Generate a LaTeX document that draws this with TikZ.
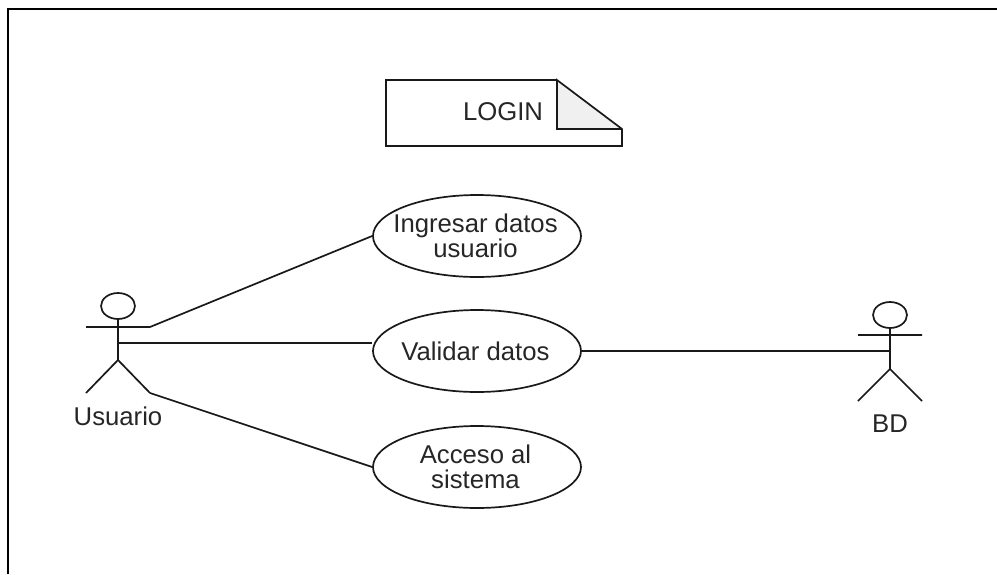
\documentclass[tikz,border=0pt]{standalone}
\usepackage{fontspec}
\setmainfont{Liberation Sans}
\usetikzlibrary{shapes.geometric}
\newcommand{\ctr}[1]{\makebox[0pt][c]{\hspace*{-3pt}#1}}
\tikzset{
  x=1pt,y=-1pt,
  line/.style={line width=1.7pt,draw=black!90},
  usecase/.style={ellipse,draw=black!90,line width=1.7pt,minimum width=208pt,minimum height=82pt,inner sep=0pt,align=center,font=\fontsize{25.7}{25.5}\selectfont,text=black!85},
  lbl/.style={font=\fontsize{25.7}{26}\selectfont,text=black!85,inner sep=0pt},
  head/.style={ellipse,draw=black!90,line width=1.7pt,minimum width=34pt,minimum height=26pt,inner sep=0pt}
}
\begin{document}
\begin{tikzpicture}
\useasboundingbox (0,0) rectangle (997,574);
% frame
\draw[line width=2pt,black] (8,574) -- (8,9) -- (997,9);
% note
\coordinate (na) at (386,80);
\coordinate (nb) at (557,80);
\coordinate (nc) at (622,129);
\coordinate (nd) at (622,146);
\coordinate (ne) at (386,146);
\coordinate (nf) at (557,129);
\fill[black!6] (nb) -- (nc) -- (nf) -- cycle;
\draw[line,line join=miter] (nb) -- (na) -- (ne) -- (nd) -- (nc) -- (nb) -- (nf) -- (nc);
\node[lbl] (login) at (503,112) {LOGIN};
% use cases
\node[usecase] (ing) at (477,236) {\ctr{Ingresar datos}\\\ctr{usuario}};
\node[usecase] (val) at (477,351) {\ctr{Validar datos}};
\node[usecase] (acc) at (477,467) {\ctr{Acceso al}\\\ctr{sistema}};
% actor Usuario
\node[head] (uh) at (118,306) {};
\coordinate (uhip) at (118,360);
\coordinate (ularm) at (86,327);
\coordinate (urarm) at (150,327);
\coordinate (ulleg) at (86,393);
\coordinate (urleg) at (150,393);
\coordinate (ubody) at (118,343);
\draw[line] (uh.south) -- (uhip) (ularm) -- (urarm) (ulleg) -- (uhip) -- (urleg);
\node[lbl] (ul) at (118,416) {Usuario};
% actor BD
\node[head] (bh) at (890,315) {};
\coordinate (bhip) at (890,369);
\coordinate (blarm) at (858,335);
\coordinate (brarm) at (922,335);
\coordinate (blleg) at (858,401);
\coordinate (brleg) at (922,401);
\coordinate (bbody) at (890,351);
\draw[line] (bh.south) -- (bhip) (blarm) -- (brarm) (blleg) -- (bhip) -- (brleg);
\node[lbl] (bl) at (890,424) {BD};
% connectors
\draw[line] (urarm) -- (ing.west);
\draw[line] (ubody) -- (val.west |- ubody);
\draw[line] (urleg) -- (acc.west);
\draw[line] (val.east) -- (bbody);
\end{tikzpicture}
\end{document}
